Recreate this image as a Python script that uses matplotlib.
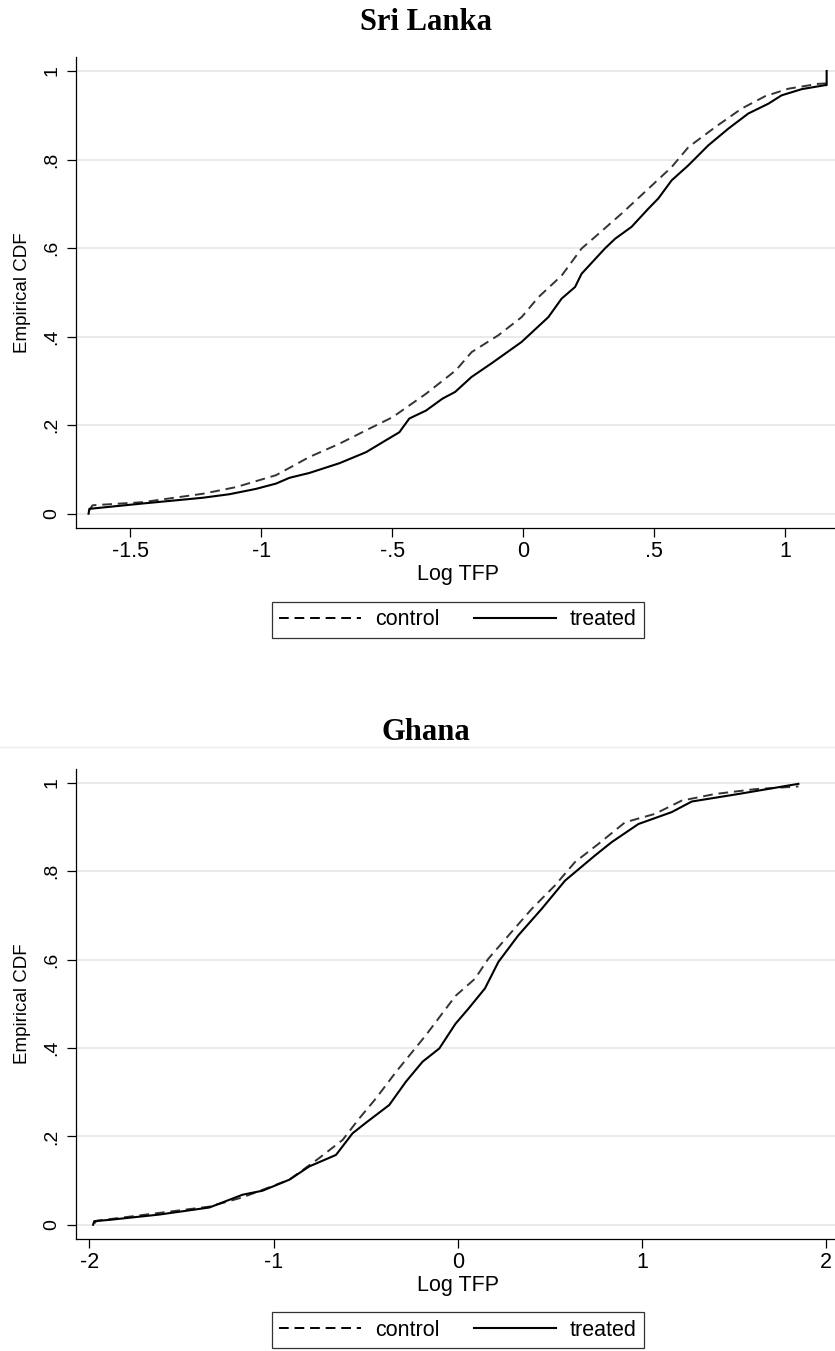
import matplotlib
matplotlib.use("Agg")
import matplotlib.pyplot as plt

plt.rcParams['font.family'] = ['Liberation Sans', 'DejaVu Sans']

# Sri Lanka, empirical CDF of log TFP
sl_control_x = [-1.657, -1.645, -1.454, -1.224, -1.097, -0.944, -0.817, -0.702, -0.588, -0.499,
                -0.371, -0.257, -0.197, -0.095, -0.006, 0.058, 0.147, 0.223, 0.274, 0.376,
                0.478, 0.567, 0.631, 0.733, 0.834, 0.924, 1.013, 1.127, 1.159]
sl_control_y = [0.008, 0.019, 0.026, 0.045, 0.060, 0.087, 0.128, 0.158, 0.192, 0.218,
                0.271, 0.324, 0.365, 0.403, 0.444, 0.489, 0.538, 0.599, 0.625, 0.678,
                0.734, 0.783, 0.828, 0.873, 0.915, 0.943, 0.960, 0.971, 0.972]
sl_treated_x = [-1.660, -1.657, -1.454, -1.224, -1.122, -1.021, -0.944, -0.893, -0.817, -0.702,
                -0.600, -0.524, -0.473, -0.435, -0.371, -0.308, -0.260, -0.197, -0.120, -0.006,
                0.096, 0.147, 0.198, 0.223, 0.312, 0.351, 0.414, 0.478, 0.516, 0.567,
                0.631, 0.707, 0.784, 0.860, 0.936, 0.987, 1.064, 1.153, 1.159, 1.159]
sl_treated_y = [0.000, 0.011, 0.023, 0.036, 0.044, 0.056, 0.068, 0.081, 0.092, 0.114,
                0.139, 0.166, 0.184, 0.215, 0.233, 0.260, 0.275, 0.309, 0.340, 0.388,
                0.444, 0.486, 0.512, 0.542, 0.599, 0.621, 0.648, 0.689, 0.712, 0.753,
                0.787, 0.832, 0.870, 0.904, 0.926, 0.945, 0.959, 0.968, 0.968, 1.000]

# Ghana
gh_control_x = [-1.974, -1.960, -1.349, -1.168, -0.914, -0.752, -0.625, -0.534, -0.444, -0.335,
                -0.173, -0.012, 0.094, 0.166, 0.293, 0.402, 0.528, 0.637, 0.764, 0.909,
                1.071, 1.216, 1.397, 1.615, 1.850]
gh_control_y = [0.003, 0.009, 0.041, 0.062, 0.102, 0.151, 0.192, 0.241, 0.286, 0.346,
                0.429, 0.518, 0.557, 0.602, 0.663, 0.715, 0.768, 0.821, 0.862, 0.911,
                0.930, 0.960, 0.975, 0.986, 0.992]
gh_treated_x = [-1.980, -1.974, -1.892, -1.621, -1.349, -1.168, -1.060, -0.914, -0.806, -0.661,
                -0.571, -0.498, -0.372, -0.281, -0.191, -0.100, -0.012, 0.058, 0.148, 0.221,
                0.329, 0.456, 0.583, 0.746, 0.836, 0.981, 1.162, 1.271, 1.524, 1.850]
gh_treated_y = [0.000, 0.008, 0.011, 0.023, 0.039, 0.068, 0.077, 0.102, 0.132, 0.158,
                0.207, 0.231, 0.271, 0.324, 0.369, 0.399, 0.455, 0.489, 0.535, 0.595,
                0.655, 0.715, 0.779, 0.836, 0.866, 0.907, 0.934, 0.958, 0.975, 0.998]

y_ticks = [0, 0.2, 0.4, 0.6, 0.8, 1]
y_ticklabels = ['0', '.2', '.4', '.6', '.8', '1']
sl_xticks = [-1.5, -1, -0.5, 0, 0.5, 1]
sl_xticklabels = ['-1.5', '-1', '-.5', '0', '.5', '1']
gh_xticks = [-2, -1, 0, 1, 2]
gh_xticklabels = ['-2', '-1', '0', '1', '2']

W, H = 835, 1351
fig = plt.figure(figsize=(W / 100, H / 100), dpi=100)


def px_axes(left, top, right, bottom):
    return fig.add_axes([left / W, 1 - bottom / H, (right - left) / W, (bottom - top) / H])


def panel(ax, cx, cy, tx, ty, xlim, xticks, xticklabels):
    ax.plot(cx, cy, color='#333333', lw=1.4, linestyle=(0, (5, 3)), label='control')
    ax.plot(tx, ty, color='black', lw=1.5, label='treated')
    ax.set_xlim(xlim)
    ax.set_ylim(-0.0323, 1.0316)
    ax.set_yticks(y_ticks)
    ax.set_yticklabels(y_ticklabels, rotation=90, va='center', fontsize=14)
    ax.set_xticks(xticks)
    ax.set_xticklabels(xticklabels, fontsize=15.5)
    ax.tick_params(length=6.5, width=0.9)
    ax.tick_params(axis='x', pad=3)
    ax.tick_params(axis='y', pad=5)
    ax.grid(axis='y', color='#e8e8e8', lw=1.3)
    ax.set_axisbelow(True)
    for s in ['top', 'right']:
        ax.spines[s].set_visible(False)
    for s in ['left', 'bottom']:
        ax.spines[s].set_linewidth(0.9)
    ax.set_ylabel('Empirical CDF', fontsize=13.5)
    ax.yaxis.set_label_coords(-0.059, 0.5)
    ax.set_xlabel('Log TFP', fontsize=15.5, labelpad=1)


ax1 = px_axes(76, 57, 840, 528)
panel(ax1, sl_control_x, sl_control_y, sl_treated_x, sl_treated_y,
      (-1.708, 1.210), sl_xticks, sl_xticklabels)
ax2 = px_axes(76, 769, 840, 1239)
panel(ax2, gh_control_x, gh_control_y, gh_treated_x, gh_treated_y,
      (-2.073, 2.076), gh_xticks, gh_xticklabels)

title_font = dict(family=['Liberation Serif', 'DejaVu Serif'], fontweight='bold', fontsize=22,
                  ha='center', va='center')
fig.text(426 / W, 1 - 22 / H, 'Sri Lanka', **title_font)
fig.text(426 / W, 1 - 733 / H, 'Ghana', **title_font)

# faint border between the two stacked graphs
fig.add_artist(plt.Line2D([0, 1], [1 - 747 / H, 1 - 747 / H], color='#ececec', lw=1,
                          transform=fig.transFigure))

for ax, yc in [(ax1, 620), (ax2, 1330)]:
    leg = ax.legend(loc='center', bbox_to_anchor=(458 / W, 1 - yc / H),
                    bbox_transform=fig.transFigure, ncol=2, fontsize=15.5, frameon=True,
                    fancybox=False, handlelength=3.8, handletextpad=0.65, columnspacing=1.6,
                    borderpad=0.35)
    leg.get_frame().set_edgecolor('black')
    leg.get_frame().set_linewidth(0.9)
    for h in leg.get_lines():
        h.set_color('black')

fig.savefig('out.png', dpi=100)
